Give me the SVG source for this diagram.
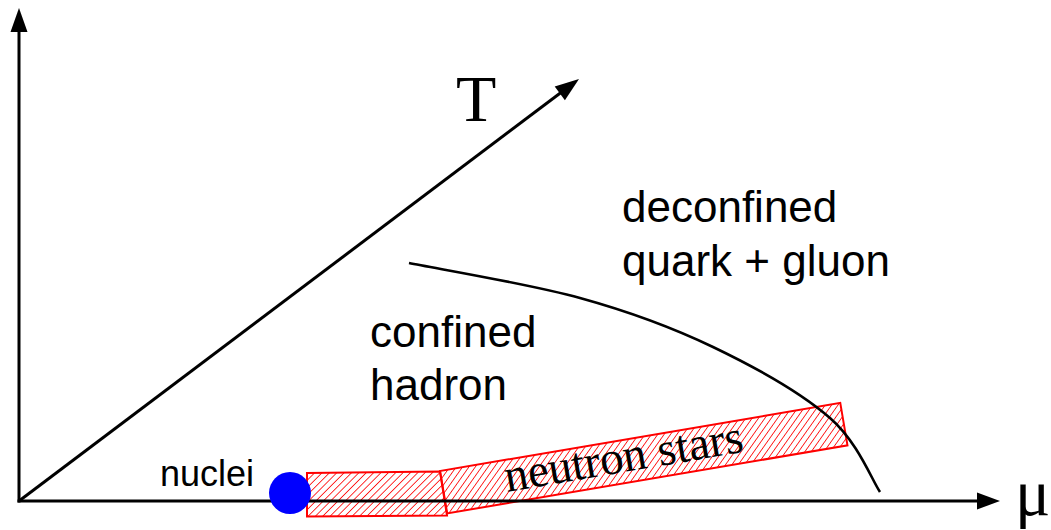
<svg xmlns="http://www.w3.org/2000/svg" width="1051" height="530" viewBox="0 0 1051 530">
  <style>
    .axis { stroke: #000; stroke-width: 3; fill: none; }
    .head { fill: #000; stroke: none; }
    .curve { stroke: #000; stroke-width: 2.6; fill: none; }
    .band { stroke: #ff0000; stroke-width: 2; fill: url(#hatch); }
    .sans { font-family: "Liberation Sans", Arial, sans-serif; fill: #000; }
    .serif { font-family: "Liberation Serif", "Times New Roman", serif; fill: #000; }
  </style>
  <defs>
    <pattern id="hatch" patternUnits="userSpaceOnUse" width="5.2" height="5.2" patternTransform="rotate(45)">
      <line x1="0" y1="0" x2="0" y2="5.2" stroke="#ff0000" stroke-width="1.6"/>
    </pattern>
  </defs>
  <rect width="1051" height="530" fill="#fff"/>

  <g id="regions">
    <polygon id="band-nuclear" class="band" points="307,473 440,471.5 447,515.5 307,516.5"/>
    <rect id="band-neutron-stars" class="band" x="0" y="0" width="406" height="43" transform="translate(440,471) rotate(-9.65)"/>
  </g>

  <g id="connectors">
    <line class="axis" x1="19" y1="502.5" x2="19" y2="28"/>
    <polygon class="head" points="19,8 27.5,32 10.5,32"/>
    <line class="axis" x1="17.5" y1="501" x2="980" y2="501"/>
    <polygon class="head" points="1000,501 977,492.5 977,509.5"/>
    <line class="axis" x1="19" y1="501" x2="563" y2="91"/>
    <polygon class="head" points="579,79 564.9,100.2 554.7,86.6"/>
  </g>

  <g id="phase-boundary">
    <path class="curve" d="M409,263 C437.5,268.8 529.3,284 580,298 C630.7,312 671.3,327 713,347 C754.7,367 802.2,393.8 830,418 C857.8,442.2 871.7,479.7 880,492"/>
  </g>

  <g id="nuclei-point">
    <circle cx="290" cy="493" r="21" fill="#0000ff"/>
  </g>

  <g id="labels">
    <text class="serif" x="456" y="121" font-size="66">T</text>
    <text class="serif" x="1015" y="515" font-size="66">μ</text>
    <text class="sans" x="622" y="222" font-size="44">deconfined</text>
    <text class="sans" x="622" y="276" font-size="44">quark + gluon</text>
    <text class="sans" x="370" y="347" font-size="44">confined</text>
    <text class="sans" x="370" y="400" font-size="44">hadron</text>
    <text class="sans" x="160" y="486" font-size="36">nuclei</text>
    <text class="serif" x="507" y="492" font-size="47" transform="rotate(-9.65 507 492)">neutron stars</text>
  </g>
</svg>
